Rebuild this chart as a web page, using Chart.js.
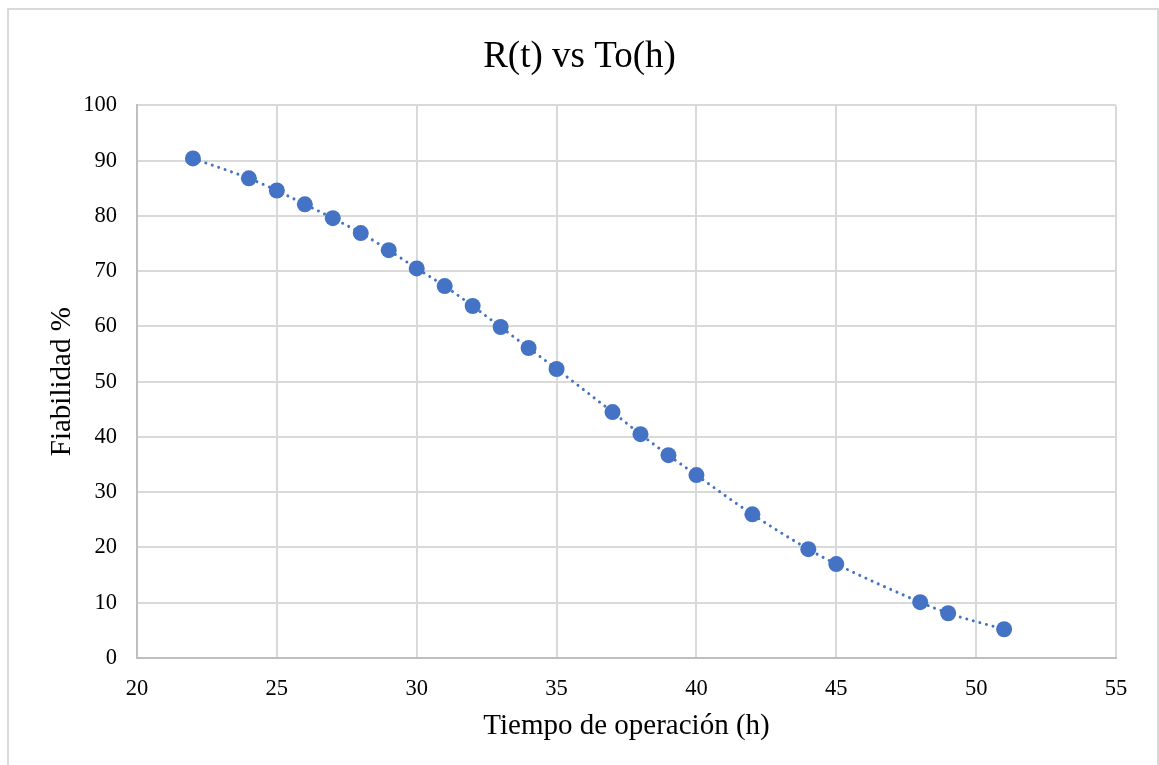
<!DOCTYPE html>
<html>
<head>
<meta charset="utf-8">
<script src="https://cdn.jsdelivr.net/npm/chart.js@4/dist/chart.umd.min.js"></script>
<style>
  html, body { margin: 0; padding: 0; background: #fff; overflow: hidden; }
  #frame {
    position: absolute; left: 7px; top: 8px; width: 1148px; height: 800px;
    border: 2px solid #d9d9d9; border-bottom: none;
  }
  #c { position: absolute; left: 0; top: 0; }
</style>
</head>
<body>
<div id="frame"></div>
<canvas id="c" width="1159" height="765"></canvas>
<script>
// Tiempo de operación (h)
const horas = [22, 24, 25, 26, 27, 28, 29, 30, 31, 32, 33, 34, 35, 37, 38, 39, 40, 42, 44, 45, 48, 49, 51];
// Fiabilidad %
const fiabilidad = [90.4, 86.8, 84.6, 82.1, 79.6, 76.9, 73.8, 70.5, 67.3, 63.7, 59.9, 56.1, 52.3,
                    44.5, 40.5, 36.7, 33.1, 26.0, 19.7, 17.0, 10.1, 8.1, 5.2];

const azul = '#4472C4';
const serif = "'Liberation Serif', 'Times New Roman', serif";

// build point list for the scatter
const puntos = horas.map((h, i) => ({ x: h, y: fiabilidad[i] }));

const ctx = document.getElementById('c').getContext('2d');
new Chart(ctx, {
    type: 'scatter',
    data: {
        datasets: [{
            data: puntos,
            showLine: true,
            borderColor: azul,
            borderWidth: 3,
            borderDash: [0.01, 6.8],
            borderCapStyle: 'round',
            cubicInterpolationMode: 'monotone',
            backgroundColor: azul,
            pointRadius: 8,
            pointBorderWidth: 0,
            pointHoverRadius: 8
        }]
    },
    options: {
        responsive: false,
        animation: false,
        // same padding both sides so the title sits in the middle of the canvas
        layout: { padding: { left: 43, right: 43, top: 0, bottom: 0 } },
        plugins: {
            legend: { display: false },
            tooltip: { enabled: false },
            title: {
                display: true,
                text: 'R(t) vs To(h)',
                color: '#000',
                font: { family: serif, size: 37, weight: 'normal', lineHeight: 1.2 },
                padding: { top: 35, bottom: 26 }
            }
        },
        scales: {
            x: {
                type: 'linear',
                min: 20, max: 55,
                afterFit: s => { s.height = 107; },
                ticks: { stepSize: 5, color: '#000', padding: 18, font: { family: serif, size: 22.5 } },
                grid: { color: '#d9d9d9', lineWidth: 2, drawTicks: false },
                border: { color: '#bfbfbf', width: 2 },
                title: {
                    display: true, text: 'Tiempo de operación (h)', color: '#000',
                    font: { family: serif, size: 29, lineHeight: 1.2 },
                    padding: { top: 0, bottom: 21 }
                }
            },
            y: {
                min: 0, max: 100,
                afterFit: s => { s.width = 94; },
                ticks: { stepSize: 10, color: '#000', padding: 20, font: { family: serif, size: 22.5 } },
                grid: { color: '#d9d9d9', lineWidth: 2, drawTicks: false },
                border: { color: '#bfbfbf', width: 2 },
                title: {
                    display: true, text: 'Fiabilidad %', color: '#000',
                    font: { family: serif, size: 29, lineHeight: 1.2 },
                    padding: { top: 2, bottom: 0 }
                }
            }
        }
    }
});
</script>
</body>
</html>
